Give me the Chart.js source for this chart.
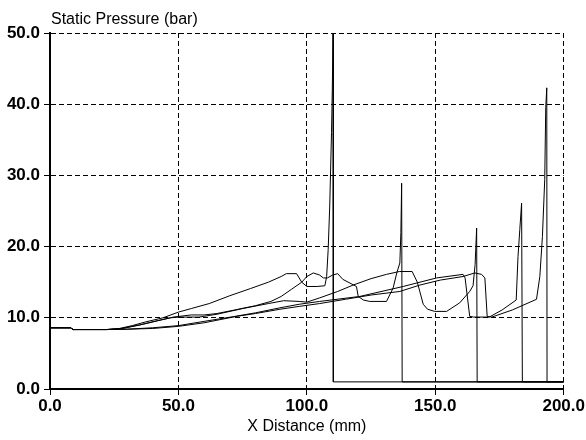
<!DOCTYPE html>
<html>
<head>
<meta charset="utf-8">
<script src="https://cdn.jsdelivr.net/npm/chart.js@4.4.1/dist/chart.umd.min.js"></script>
<style>
  body { margin: 0; background: #fff; }
  canvas { display: block; }
</style>
</head>
<body>
<canvas id="myChart" width="586" height="440"></canvas>
<script>
// pressure profiles along the tube, one per shock front position
const distA = [0, 8, 9, 22, 27, 32, 37, 44, 50, 55, 62, 70, 78, 85, 90, 92, 96, 98, 100, 104, 107, 107.7, 108.3, 108.9, 109.6, 109.9, 110.2, 110.3, 200];
const presA = [8.6, 8.6, 8.35, 8.35, 8.5, 8.9, 9.4, 10.0, 10.8, 11.3, 12.0, 13.1, 14.1, 15.0, 15.8, 16.2, 16.2, 15.0, 14.4, 14.4, 14.5, 15.8, 19.6, 25.7, 36, 42, 50, 1, 1];

const distB = [0, 8, 9, 22, 28, 35, 42, 48, 55, 60, 65, 72, 80, 86, 90, 94, 98, 100, 102.5, 105, 106.4, 108, 110, 112, 114, 119.3, 120, 122, 124.5, 131, 133.6, 135, 136.2, 136.6, 136.9, 137.1, 200];
const presB = [8.6, 8.6, 8.35, 8.35, 8.5, 9.0, 9.6, 10.1, 10.4, 10.4, 10.6, 11.1, 11.7, 12.3, 13.0, 14.0, 15.0, 15.8, 16.3, 16.0, 15.6, 15.6, 16.0, 16.2, 15.4, 14.4, 13.0, 12.5, 12.3, 12.3, 14.2, 16.3, 17.7, 22, 28.9, 1, 1];

const distC = [0, 8, 9, 22, 28, 35, 42, 47, 50, 58, 65, 75, 85, 91, 97, 100, 105, 112, 118, 125, 131, 136, 141, 143, 145.3, 147, 149.8, 154.4, 159.5, 163.4, 164.7, 165.5, 166.1, 166.3, 200];
const presC = [8.6, 8.6, 8.35, 8.35, 8.5, 9.0, 9.6, 10.0, 10.1, 10.1, 10.5, 11.3, 12.0, 12.4, 12.3, 12.2, 12.8, 13.7, 14.6, 15.5, 16.1, 16.5, 16.5, 15.0, 11.9, 11.2, 10.9, 10.9, 12.1, 13.7, 14.5, 17.5, 22.6, 1, 1];

const distD = [0, 8, 9, 22, 30, 40, 50, 60, 72, 80, 89.5, 97, 105, 120.6, 137.5, 150.5, 160.8, 161.6, 163.4, 165, 171, 176, 181.5, 182.2, 182.9, 183.6, 183.9, 200];
const presD = [8.6, 8.6, 8.35, 8.35, 8.4, 8.6, 8.9, 9.5, 10.2, 10.7, 11.4, 11.9, 12.3, 13.0, 14.4, 15.6, 16.1, 15.6, 10.2, 10.1, 10.1, 11.1, 12.5, 18.6, 22.4, 26.1, 1, 1];

const distE = [0, 8, 9, 22, 30, 40, 50, 60, 72.6, 80, 89.5, 97, 105, 115, 125, 136.2, 144, 152, 160.8, 165.4, 168, 169.3, 170.2, 172, 180, 189.4, 190.7, 191.7, 192.6, 193, 193.4, 193.5, 200];
const presE = [8.6, 8.6, 8.35, 8.35, 8.4, 8.5, 8.8, 9.3, 10.2, 10.6, 11.2, 11.6, 12.0, 12.6, 13.2, 13.7, 14.6, 15.3, 15.8, 16.3, 16.1, 15.6, 10.2, 10.1, 11.1, 12.6, 15.8, 21.4, 29.4, 39.5, 42.3, 1, 1];

const profiles = [[distA, presA], [distB, presB], [distC, presC], [distD, presD], [distE, presE]];

const tickFont = { family: '"Liberation Sans", Arial, sans-serif', size: 17, weight: 'bold' };
const titleFont = { family: '"Liberation Sans", Arial, sans-serif', size: 16 };

// y axis caption sits above the plot, left aligned
const captionPlugin = {
  id: 'caption',
  afterDraw(chart) {
    const c = chart.ctx;
    c.save();
    c.fillStyle = '#000';
    c.font = '16px "Liberation Sans", Arial, sans-serif';
    c.textAlign = 'left';
    c.textBaseline = 'alphabetic';
    c.fillText('Static Pressure (bar)', 51, 24);
    c.restore();
  }
};

const ctx = document.getElementById('myChart');
const myChart = new Chart(ctx, {
  type: 'scatter',
  data: {
    datasets: profiles.map(p => ({
      data: p[0].map((x, i) => ({ x: x, y: p[1][i] })),
      showLine: true,
      borderColor: '#000',
      borderWidth: 1,
      pointRadius: 0,
      tension: 0
    }))
  },
  options: {
    responsive: false,
    animation: false,
    layout: { padding: { top: 33, right: 22, left: 0, bottom: 0 } },
    plugins: { legend: { display: false }, tooltip: { enabled: false } },
    scales: {
      x: {
        type: 'linear',
        min: 0,
        max: 200,
        afterFit: s => { s.height = 51; },
        ticks: {
          stepSize: 50,
          color: '#000',
          font: tickFont,
          padding: 1,
          maxRotation: 0,
          callback: v => v.toFixed(1)
        },
        grid: { color: '#000', lineWidth: 1, tickLength: 6, tickColor: '#000' },
        border: { display: true, color: '#000', width: 2, dash: [5, 3] },
        title: {
          display: true,
          text: 'X Distance (mm)',
          color: '#000',
          font: titleFont,
          padding: { top: 0, bottom: 4 }
        }
      },
      y: {
        min: 0,
        max: 50,
        afterFit: s => { s.width = 50; },
        ticks: {
          stepSize: 10,
          color: '#000',
          font: tickFont,
          padding: 4,
          callback: v => v.toFixed(1)
        },
        grid: { color: '#000', lineWidth: 1, tickLength: 6, tickColor: '#000' },
        border: { display: true, color: '#000', width: 2, dash: [5, 3] }
      }
    }
  },
  plugins: [captionPlugin]
});
</script>
</body>
</html>
